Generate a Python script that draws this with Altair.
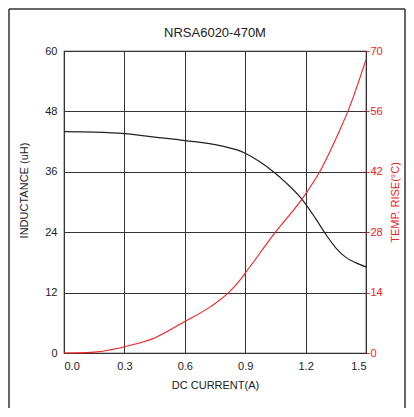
import altair as alt
import pandas as pd

# Inductance curve (left axis)
current_l = [0.0, 0.15, 0.3, 0.45, 0.6, 0.775, 0.9, 0.973, 1.04, 1.106, 1.172, 1.2, 1.25, 1.3, 1.35, 1.4, 1.45, 1.5]
inductance = [44.0, 43.9, 43.6, 42.9, 42.2, 41.2, 39.7, 38.0, 36.0, 33.7, 31.0, 29.6, 26.7, 23.6, 20.9, 19.0, 17.9, 17.1]

# Temperature rise curve (right axis)
current_t = [0.0, 0.08, 0.15, 0.22, 0.3, 0.45, 0.6, 0.73, 0.82, 0.874, 0.9, 1.05, 1.19, 1.27, 1.37, 1.41, 1.5]
temp_rise = [0.0, 0.02, 0.2, 0.65, 1.46, 3.5, 7.3, 10.8, 14.1, 16.9, 18.5, 28.0, 36.2, 42.0, 51.7, 56.0, 68.0]

x_ticks = [0.0, 0.3, 0.6, 0.9, 1.2, 1.5]
l_ticks = [0, 12, 24, 36, 48, 60]
r_ticks = [0, 14, 28, 42, 56, 70]

df_l = pd.DataFrame({"current": current_l, "inductance": inductance})
df_t = pd.DataFrame({"current": current_t, "temp": temp_rise})

FONT = "Liberation Sans"
RED = "#ee2222"

x_enc = alt.X(
    "current:Q",
    scale=alt.Scale(domain=[0, 1.5], nice=False),
    axis=alt.Axis(
        values=x_ticks, format=".1f", title="DC CURRENT(A)", grid=True,
        gridColor="#333333", gridOpacity=1, domain=False, ticks=False, tickSize=0,
        labelPadding=7, titlePadding=8, labelFontSize=11, titleFontSize=11,
        labelColor="#222222", titleColor="#222222", titleFontWeight="normal",
    ),
)

ind_line = alt.Chart(df_l).mark_line(color="#222222", strokeWidth=1.2, interpolate="monotone").encode(
    x=x_enc,
    y=alt.Y(
        "inductance:Q",
        scale=alt.Scale(domain=[0, 60], nice=False),
        axis=alt.Axis(
            values=l_ticks, title="INDUCTANCE (uH)", grid=True, gridColor="#333333",
            gridOpacity=1, domain=False, ticks=False, tickSize=0, labelPadding=7,
            titlePadding=15, labelFontSize=11, titleFontSize=11, titleY=139,
            labelColor="#222222", titleColor="#222222", titleFontWeight="normal",
        ),
    ),
)

temp_line = alt.Chart(df_t).mark_line(color=RED, strokeWidth=1.1, interpolate="monotone").encode(
    x=alt.X("current:Q"),
    y=alt.Y(
        "temp:Q",
        scale=alt.Scale(domain=[0, 70], nice=False),
        axis=alt.Axis(
            orient="right", values=r_ticks, title="TEMP. RISE(°C)", grid=False,
            domain=False, ticks=True, tickSize=3, tickColor=RED, labelPadding=1,
            titlePadding=18, labelFontSize=11, titleFontSize=11, titleAngle=270,
            labelColor=RED, titleColor=RED, titleFontWeight="normal",
        ),
    ),
)

# Decorative frame around the figure (left, top, right edges only)
frame_base = alt.Chart(pd.DataFrame({"a": [0]}))
frame_left = frame_base.mark_rule(color="#333333", strokeWidth=1.5).encode(
    x=alt.value(-55), y=alt.value(-42), y2=alt.value(400)
)
frame_top = frame_base.mark_rule(color="#333333", strokeWidth=1.5).encode(
    x=alt.value(-55), x2=alt.value(341), y=alt.value(-42)
)
frame_right = frame_base.mark_rule(color="#333333", strokeWidth=1.5).encode(
    x=alt.value(341), y=alt.value(-42), y2=alt.value(400)
)

chart = (
    alt.layer(ind_line, temp_line, frame_left, frame_top, frame_right)
    .resolve_scale(y="independent")
    .properties(
        width=302, height=302,
        title=alt.TitleParams("NRSA6020-470M", fontSize=13, font=FONT, fontWeight="normal",
                              color="#222222", offset=0, dy=32),
        autosize=alt.AutoSizeParams(type="none"),
        padding={"left": 56, "top": 43, "right": 40, "bottom": 55},
        background="white",
    )
    .configure(font=FONT)
    .configure_view(stroke="#222222", strokeWidth=1.2)
    .configure_axis(labelFont=FONT, titleFont=FONT)
)

chart.save("out.html", embed_options={"renderer": "svg", "actions": False})
